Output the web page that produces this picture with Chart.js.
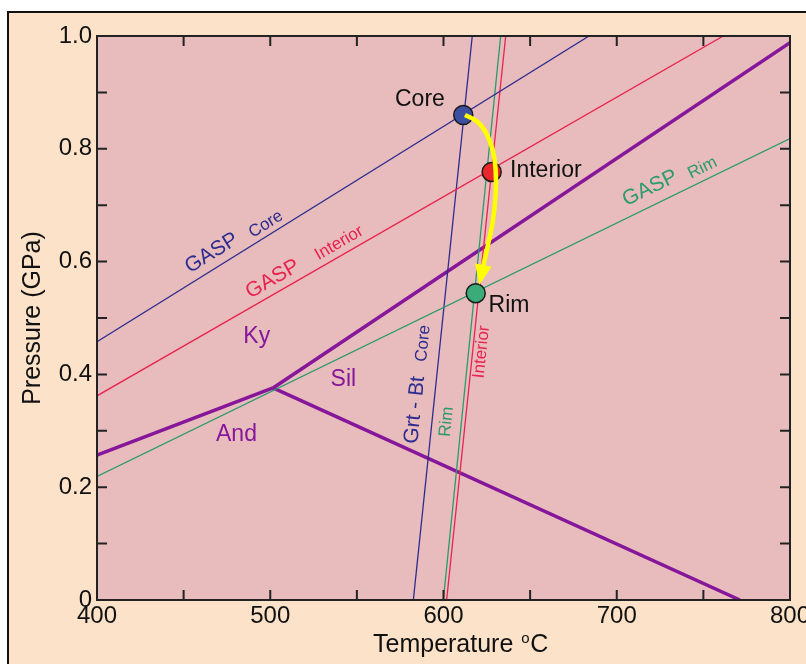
<!DOCTYPE html>
<html>
<head>
<meta charset="utf-8">
<script src="https://cdn.jsdelivr.net/npm/chart.js@4.4.0/dist/chart.umd.min.js"></script>
<style>
  html, body { margin: 0; padding: 0; background: #fff; }
  canvas { display: block; }
</style>
</head>
<body>
<canvas id="ptChart" width="806" height="664"></canvas>
<script>
// P-T diagram: Al2SiO5 triple point with GASP and Grt-Bt equilibria

const tempTicks = [400, 500, 600, 700, 800];
const pressTicks = [0, 0.2, 0.4, 0.6, 0.8, 1.0];

// reaction lines as temperature (°C) / pressure (GPa) pairs
const gaspCoreT = [400, 684];
const gaspCoreP = [0.458, 1.0];
const gaspInteriorT = [400, 761.5];
const gaspInteriorP = [0.362, 1.0];
const gaspRimT = [400, 800];
const gaspRimP = [0.219, 0.818];

const grtBtCoreT = [582.6, 616.6];
const grtBtCoreP = [0, 1.0];
const grtBtInteriorT = [601.8, 635.9];
const grtBtInteriorP = [0, 1.0];
const grtBtRimT = [599.9, 633.0];
const grtBtRimP = [0, 1.0];

// aluminosilicate boundaries
const andKyT = [400, 501.6];
const andKyP = [0.257, 0.376];
const kySilT = [501.6, 800];
const kySilP = [0.376, 0.988];
const andSilT = [501.6, 771.1];
const andSilP = [0.376, 0];

// garnet zones
const zoneNames = ['Core', 'Interior', 'Rim'];
const zoneT = [611.4, 627.8, 618.6];
const zoneP = [0.860, 0.759, 0.544];

// P-T path (last value is the arrow tip)
const pathT = [612.4, 619.6, 624.8, 628.4, 630.1, 630.1, 628.6, 625.4, 622.8, 620.7];
const pathP = [0.860, 0.848, 0.827, 0.798, 0.762, 0.721, 0.674, 0.626, 0.591, 0.559];

const navy = '#2c2c8e';
const red = '#e8234e';
const green = '#2a9a6c';
const purple = '#86179a';
const FONT = "'Liberation Sans', Arial, Helvetica, sans-serif";

const pairs = (ts, ps) => ts.map((t, i) => ({ x: t, y: ps[i] }));

function lineSet(ts, ps, color, width) {
    return {
        data: pairs(ts, ps),
        showLine: true,
        borderColor: color,
        borderWidth: width,
        pointRadius: 0,
        order: 3
    };
}

// text notes, anchored in data units; "along" gives the line to follow
const notes = [
    { text: 'GASP', t: 466.2, p: 0.615, size: 21, color: navy, along: [gaspCoreT, gaspCoreP] },
    { text: 'Core', t: 497.5, p: 0.666, size: 17, color: navy, along: [gaspCoreT, gaspCoreP] },
    { text: 'GASP', t: 501.4, p: 0.569, size: 21, color: red, along: [gaspInteriorT, gaspInteriorP] },
    { text: 'Interior', t: 539.8, p: 0.633, size: 17, color: red, along: [gaspInteriorT, gaspInteriorP] },
    { text: 'GASP', t: 719.2, p: 0.730, size: 21, color: green, along: [gaspRimT, gaspRimP] },
    { text: 'Rim', t: 749.5, p: 0.766, size: 17, color: green, along: [gaspRimT, gaspRimP] },
    { text: 'Grt - Bt', t: 583.5, p: 0.337, size: 21, color: navy, along: [grtBtCoreT, grtBtCoreP] },
    { text: 'Core', t: 588.3, p: 0.455, size: 17, color: navy, along: [grtBtCoreT, grtBtCoreP] },
    { text: 'Rim', t: 601.8, p: 0.316, size: 17, color: green, along: [grtBtRimT, grtBtRimP] },
    { text: 'Interior', t: 622.0, p: 0.440, size: 17, color: red, along: [grtBtInteriorT, grtBtInteriorP] },
    { text: 'Ky', t: 492.2, p: 0.467, size: 23, color: purple },
    { text: 'Sil', t: 542.2, p: 0.390, size: 23, color: purple },
    { text: 'And', t: 480.5, p: 0.293, size: 23, color: purple },
    { text: 'Core', t: 586.4, p: 0.887, size: 23, color: '#111' },
    { text: 'Interior', t: 638.4, p: 0.762, size: 23, color: '#111', align: 'left' },
    { text: 'Rim', t: 637.8, p: 0.521, size: 23, color: '#111' }
];

const decor = {
    id: 'decor',
    beforeDraw(chart) {
        const { ctx, width, height, chartArea: a } = chart;
        ctx.save();
        ctx.fillStyle = '#ffffff';
        ctx.fillRect(0, 0, width, height);
        ctx.fillStyle = '#fce2c8';
        ctx.fillRect(8, 12, width - 8, height - 12);
        ctx.strokeStyle = '#111';
        ctx.lineWidth = 2;
        ctx.beginPath();
        ctx.moveTo(8, height);
        ctx.lineTo(8, 12);
        ctx.lineTo(width, 12);
        ctx.stroke();
        ctx.fillStyle = '#e8bcbd';
        ctx.fillRect(a.left, a.top, a.right - a.left, a.bottom - a.top);
        ctx.restore();
    },
    afterDatasetsDraw(chart) {
        const { ctx, chartArea: a, scales: { x, y } } = chart;
        ctx.save();

        // arrow head on the P-T path
        const n = pathT.length;
        const tipX = x.getPixelForValue(pathT[n - 1]);
        const tipY = y.getPixelForValue(pathP[n - 1]);
        const bx = x.getPixelForValue(pathT[n - 2]);
        const by = y.getPixelForValue(pathP[n - 2]);
        const ang = Math.atan2(tipY - by, tipX - bx);
        const len = 20, half = 8.5;
        const cx = tipX - Math.cos(ang) * len, cy = tipY - Math.sin(ang) * len;
        ctx.fillStyle = '#ffff00';
        ctx.beginPath();
        ctx.moveTo(tipX, tipY);
        ctx.lineTo(cx + Math.sin(ang) * half, cy - Math.cos(ang) * half);
        ctx.lineTo(cx - Math.sin(ang) * half, cy + Math.cos(ang) * half);
        ctx.closePath();
        ctx.fill();

        // labels
        notes.forEach(nt => {
            const px = x.getPixelForValue(nt.t);
            const py = y.getPixelForValue(nt.p);
            let rot = 0;
            if (nt.along) {
                const [ts, ps] = nt.along;
                const x0 = x.getPixelForValue(ts[0]), y0 = y.getPixelForValue(ps[0]);
                const x1 = x.getPixelForValue(ts[1]), y1 = y.getPixelForValue(ps[1]);
                rot = Math.atan2(y1 - y0, x1 - x0);
                if (rot > 0) rot -= Math.PI;
            }
            ctx.save();
            ctx.translate(px, py);
            ctx.rotate(rot);
            ctx.font = `${nt.size}px ${FONT}`;
            ctx.fillStyle = nt.color;
            ctx.textAlign = nt.align || 'center';
            ctx.textBaseline = 'middle';
            ctx.fillText(nt.text, 0, 0);
            ctx.restore();
        });

        // frame and inward ticks
        ctx.strokeStyle = '#222';
        ctx.lineWidth = 2;
        ctx.strokeRect(a.left, a.top, a.right - a.left, a.bottom - a.top);
        const tl = 10;
        ctx.beginPath();
        x.ticks.forEach(tk => {
            if (tk.value <= x.min || tk.value >= x.max) return;
            const px = x.getPixelForValue(tk.value);
            ctx.moveTo(px, a.bottom); ctx.lineTo(px, a.bottom - tl);
            ctx.moveTo(px, a.top); ctx.lineTo(px, a.top + tl);
        });
        y.ticks.forEach(tk => {
            if (tk.value <= y.min || tk.value >= y.max) return;
            const py = y.getPixelForValue(tk.value);
            ctx.moveTo(a.left, py); ctx.lineTo(a.left + tl, py);
            ctx.moveTo(a.right, py); ctx.lineTo(a.right - tl, py);
        });
        ctx.stroke();

        // x-axis title with superscript degree
        ctx.fillStyle = '#111';
        ctx.textAlign = 'left';
        ctx.textBaseline = 'alphabetic';
        ctx.font = `25px ${FONT}`;
        const tx = a.left + 276, ty = 652;
        ctx.fillText('Temperature', tx, ty);
        const w = ctx.measureText('Temperature').width;
        ctx.font = `15px ${FONT}`;
        ctx.fillText('o', tx + w + 8, ty - 9);
        ctx.font = `25px ${FONT}`;
        ctx.fillText('C', tx + w + 17, ty);
        ctx.restore();
    }
};

const zoneColors = ['#3d4fa3', '#e8262c', '#3bab7a'];

new Chart(document.getElementById('ptChart'), {
    type: 'scatter',
    data: {
        datasets: [
            lineSet(gaspCoreT, gaspCoreP, navy, 1.3),
            lineSet(gaspInteriorT, gaspInteriorP, red, 1.3),
            lineSet(gaspRimT, gaspRimP, green, 1.3),
            lineSet(grtBtCoreT, grtBtCoreP, navy, 1.3),
            lineSet(grtBtInteriorT, grtBtInteriorP, red, 1.3),
            lineSet(grtBtRimT, grtBtRimP, green, 1.3),
            lineSet(andKyT, andKyP, purple, 3.5),
            lineSet(kySilT, kySilP, purple, 3.5),
            lineSet(andSilT, andSilP, purple, 3.5),
            {
                label: 'zones',
                data: pairs(zoneT, zoneP),
                pointRadius: 9.5,
                pointBackgroundColor: zoneColors,
                pointBorderColor: '#1a1a1a',
                pointBorderWidth: 1.5,
                order: 2
            },
            {
                label: 'path',
                data: pairs(pathT.slice(0, -1), pathP.slice(0, -1)),
                showLine: true,
                borderColor: '#ffff00',
                borderWidth: 4.5,
                tension: 0.4,
                pointRadius: 0,
                order: 1
            }
        ]
    },
    options: {
        responsive: false,
        animation: false,
        devicePixelRatio: 1,
        layout: { padding: { left: 8, right: 16, top: 36, bottom: 0 } },
        plugins: { legend: { display: false }, tooltip: { enabled: false } },
        scales: {
            x: {
                type: 'linear',
                min: 400,
                max: 800,
                grid: { display: false, drawTicks: false },
                border: { display: false },
                ticks: {
                    stepSize: 50,
                    autoSkip: false,
                    maxRotation: 0,
                    padding: 2,
                    color: '#111',
                    font: { family: FONT, size: 24 },
                    callback: v => tempTicks.includes(v) ? String(v) : ''
                },
                title: { display: false },
                afterFit(s) { s.height = 64; s.paddingLeft = 0; s.paddingRight = 0; }
            },
            y: {
                min: 0,
                max: 1,
                grid: { display: false, drawTicks: false },
                border: { display: false },
                ticks: {
                    stepSize: 0.1,
                    autoSkip: false,
                    padding: 5,
                    color: '#111',
                    font: { family: FONT, size: 24 },
                    callback: v => {
                        const k = Math.round(v * 10);
                        const hit = pressTicks.find(p => Math.round(p * 10) === k);
                        if (hit === undefined) return '';
                        return k === 0 ? '0' : hit.toFixed(1);
                    }
                },
                title: {
                    display: true,
                    text: 'Pressure (GPa)',
                    color: '#111',
                    font: { family: FONT, size: 25 },
                    padding: { top: 10, bottom: 0 }
                },
                afterFit(s) { s.width = 89; s.paddingTop = 0; s.paddingBottom = 0; }
            }
        }
    },
    plugins: [decor]
});
</script>
</body>
</html>
